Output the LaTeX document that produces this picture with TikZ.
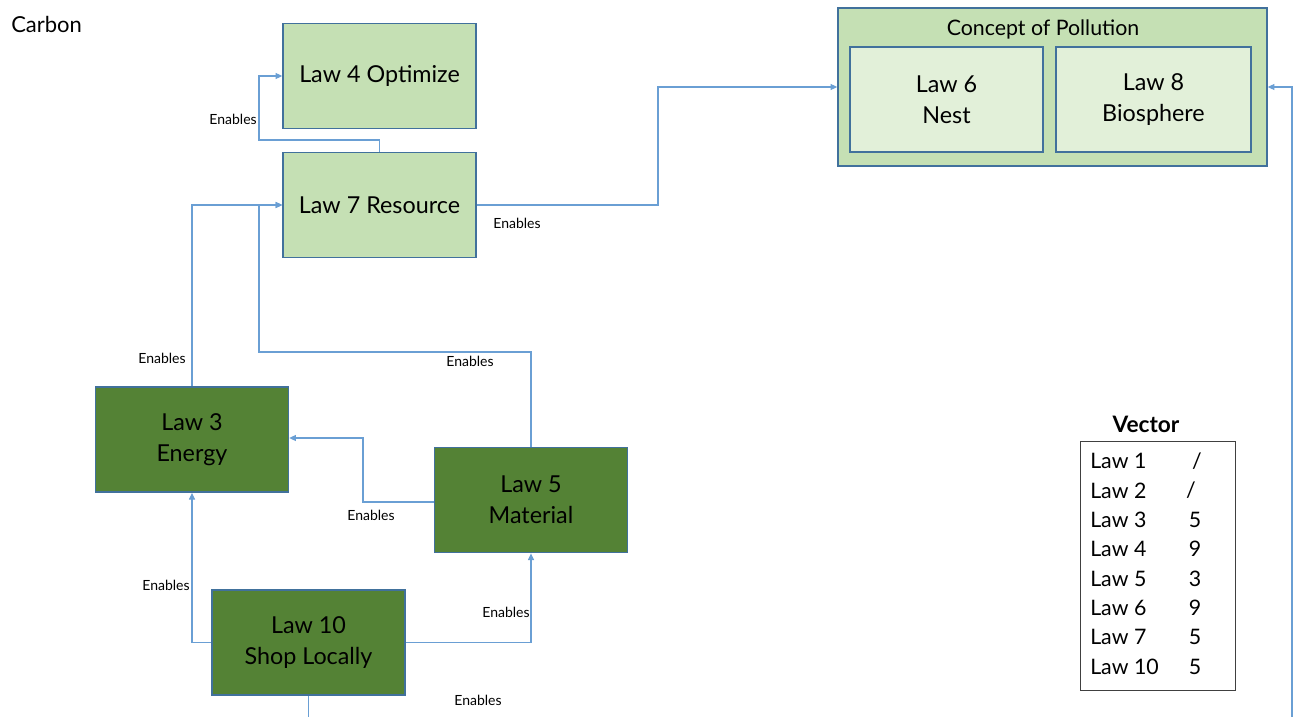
\documentclass[tikz,border=0pt]{standalone}
\usepackage{fontspec}
\setmainfont{Lato}
\usetikzlibrary{arrows.meta}
\definecolor{lightgreen}{HTML}{C5E0B4}
\definecolor{palegreen}{HTML}{E2F0D9}
\definecolor{darkgreen}{HTML}{548235}
\definecolor{boxedge}{HTML}{41719C}
\definecolor{linkblue}{HTML}{6A9FD4}
\tikzset{
  lawbox/.style={draw=boxedge, line width=1.1pt, align=center, inner sep=0pt,
    font=\fontsize{17.5}{23}\selectfont, minimum width=144.75pt, minimum height=79pt},
  lightbox/.style={lawbox, fill=lightgreen},
  darkbox/.style={lawbox, fill=darkgreen},
  innerbox/.style={lawbox, fill=palegreen},
  link/.style={draw=linkblue, line width=0.8pt, -{Triangle[length=5pt,width=4.5pt]}},
  lbl/.style={font=\fontsize{10.5}{12}\selectfont, inner sep=0pt},
  cell/.style={font=\fontsize{16}{18}\selectfont, inner sep=0pt}
}
\begin{document}
\begin{tikzpicture}[x=0.75pt,y=-0.75pt]
  \useasboundingbox (0,0) rectangle (1297,717);
  \clip (0,0) rectangle (1297,717);

  % title
  \node[anchor=west, font=\fontsize{16.5}{18}\selectfont, inner sep=0pt] (title) at (11,24) {Carbon};

  % law boxes
  \node[lightbox] (law4) at (379.5,76) {Law 4 Optimize};
  \node[lightbox] (law7) at (379.5,205) {Law 7 Resource};
  \node[darkbox] (law3) at (192,439.5) {Law 3\\Energy};
  \node[darkbox] (law5) at (531,500) {Law 5\\Material};
  \node[darkbox] (law10) at (308.5,642.5) {Law 10\\Shop Locally};

  % pollution group
  \node[lawbox, fill=lightgreen, minimum width=321.75pt, minimum height=118.5pt] (poll) at (1052.5,87) {};
  \node[font=\fontsize{16}{18}\selectfont, inner sep=0pt] (polltitle) at (1043,29) {Concept of Pollution};
  \node[innerbox] (law6) at (946.5,99.5) {Law 6\\Nest};
  \node[innerbox, minimum width=146.25pt] (law8) at (1153.5,99.5) {Law 8\\Biosphere};

  % connectors
  \draw[link] (law7.north) -- (379.5,140) -- (259,140) -- (259,76) -- (law4.west);
  \draw[link] (law7.east) -- (658,205) -- (658,87) -- (poll.west);
  \draw[link] (law3.north) -- (192,205) -- (law7.west);
  \draw[link] (law5.north) -- (531,352) -- (259,352) -- (259,205) -- (law7.west);
  \draw[link] (law5.west |- 0,502) -- (363,502) -- (363,438) -- (law3.east |- 0,438);
  \draw[link] (law10.west) -- (192,642.5) -- (law3.south);
  \draw[link] (law10.east) -- (531,642.5) -- (law5.south);
  \draw[link] (law10.south) -- (308.5,740) -- (1292,740) -- (1292,87) -- (poll.east);

  % connector labels
  \node[lbl, anchor=east] (e1) at (257,119) {Enables};
  \node[lbl] (e2) at (517,223) {Enables};
  \node[lbl] (e3) at (162,358) {Enables};
  \node[lbl] (e4) at (470,361) {Enables};
  \node[lbl] (e5) at (371,515) {Enables};
  \node[lbl] (e6) at (166,585) {Enables};
  \node[lbl] (e7) at (506,612) {Enables};
  \node[lbl] (e8) at (478,700) {Enables};

  % vector table
  \node[font=\bfseries\fontsize{17}{19}\selectfont, inner sep=0pt] (vtitle) at (1146,424) {Vector};
  \node[draw=black!75, line width=0.6pt, minimum width=116.25pt, minimum height=186.75pt, inner sep=0pt] (vbox) at (1157.5,565.5) {};
  \foreach \n/\v/\vx [count=\i from 0] in {1/{/}/1197, 2/{/}/1191, 3/5/1195, 4/9/1195, 5/3/1195, 6/9/1195, 7/5/1195, 10/5/1195} {
    \node[cell, anchor=west] (k\i) at (1090,461+29.4*\i) {Law \n};
    \node[cell] (v\i) at (\vx,461+29.4*\i) {\v};
  }
\end{tikzpicture}
\end{document}
